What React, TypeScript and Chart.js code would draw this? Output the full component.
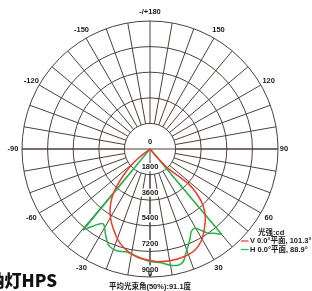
import React, { useEffect, useRef } from "react";
import { Chart, registerables } from "chart.js";
Chart.register(...registerables);

// Ring (intensity) tick values and labels, cd
const ringValues = [0, 1800, 3600, 5400, 7200, 9000];
const ringLabels = ["0", "1800", "3600", "5400", "7200", "9000"];
// Angular grid
const spokeAngles = [0, 10, 20, 30, 40, 50, 60, 70, 80, 90, 100, 110, 120, 130, 140, 150, 160, 170, 180,
  -170, -160, -150, -140, -130, -120, -110, -100, -90, -80, -70, -60, -50, -40, -30, -20, -10];
const angleTickDeg = [0, 30, 60, 90, 120, 150, 180, -150, -120, -90, -60, -30];
const angleTickLabels = ["0", "30", "60", "90", "120", "150", "-/+180", "-150", "-120", "-90", "-60", "-30"];

// V 0.0° plane (red) — path: angle (deg), intensity (cd)
const redAngles = [-55, -52, -49, -46, -42.7, -39.6, -35.9, -31.9, -27.3, -22.5, -18, -12, -6.5, 0, 4, 10.8, 17.8, 23.5, 29, 34, 39.2, 43.4, 46.2, 47.8, 46.9, 43, 41.7, 40];
const redValues = [0, 1050, 1700, 2450, 3280, 4040, 4710, 5320, 5880, 6420, 6920, 7380, 7660, 7840, 7940, 7980, 7940, 7800, 7420, 6820, 6150, 5410, 4570, 3730, 3020, 1860, 1200, 0];

// H 0.0° plane (green)
const greenAngles = [-39.5, -36.4, -32, -27.2, -23, -18, -13, -9, -4.3, 0, 5.7, 10, 14, 16.5, 19, 23.6, 26.5, 29.4, 31.7, 34.5, 37, 40];
const greenValues = [7380, 6720, 6210, 6820, 7380, 7520, 7420, 7520, 7730, 7910, 8040, 8300, 8400, 8250, 7750, 6980, 6500, 6400, 6680, 7190, 7410, 7830];

const legendTitle = "光强:cd";
const seriesNames = ["V 0.0°平面, 101.3°", "H 0.0°平面, 88.9°"];
const beamText = "平均光束角(50%):91.1度";
const titleText = "高压钠灯HPS";

const RED = "#ef3b2c";
const GREEN = "#26b44a";
const GRID = "#4d3f3a";

const W = 312;
const H = 291;
const CX = 150;
const CY = 149;
const RPX = 128;
const K = 9000 / RPX; // cd per pixel

function toXY(deg: number, cd: number) {
  const a = (deg * Math.PI) / 180;
  return { x: cd * Math.sin(a), y: -cd * Math.cos(a) };
}

const SMALL = 'bold 7.5px "Liberation Sans", "Noto Sans CJK SC"';

const polarPlugin = {
  id: "polarGrid",
  beforeDatasetsDraw(chart: any) {
    const ctx = chart.ctx;
    const xs = chart.scales.x;
    const ys = chart.scales.y;
    const px = (deg: number, cd: number) => {
      const p = toXY(deg, cd);
      return [xs.getPixelForValue(p.x), ys.getPixelForValue(p.y)];
    };
    const cx = xs.getPixelForValue(0);
    const cy = ys.getPixelForValue(0);
    const rp = (cd: number) => Math.abs(xs.getPixelForValue(cd) - cx);
    ctx.save();
    ctx.strokeStyle = GRID;
    ctx.lineWidth = 1;
    ringValues.forEach((v) => {
      if (v === 0) return;
      ctx.beginPath();
      ctx.arc(cx, cy, rp(v), 0, Math.PI * 2);
      ctx.stroke();
    });
    const r1 = ringValues[1];
    const rMax = ringValues[ringValues.length - 1];
    spokeAngles.forEach((a) => {
      const [x1, y1] = px(a, r1);
      const [x2, y2] = px(a, rMax);
      ctx.beginPath();
      ctx.moveTo(x1, y1);
      ctx.lineTo(x2, y2);
      ctx.stroke();
    });
    {
      const [xa, ya] = px(-90, rMax);
      const [xb, yb] = px(90, rMax);
      ctx.beginPath();
      ctx.moveTo(xa, ya);
      ctx.lineTo(xb, yb);
      ctx.stroke();
      const [xc, yc] = px(0, rMax);
      ctx.beginPath();
      ctx.moveTo(cx, cy);
      ctx.lineTo(xc, yc);
      ctx.stroke();
    }
    ctx.font = SMALL;
    ctx.textAlign = "center";
    ctx.textBaseline = "middle";
    ringValues.forEach((v, i) => {
      const y = cy + rp(v) - 7.5;
      const w = ctx.measureText(ringLabels[i]).width;
      ctx.fillStyle = "#ffffff";
      ctx.fillRect(cx - w / 2 - 1, y - 4, w + 2, 8);
      ctx.fillStyle = "#1a1a1a";
      ctx.fillText(ringLabels[i], cx, y);
    });
    angleTickDeg.forEach((a, i) => {
      const rr = a === 0 ? 125 * K : a === 90 ? 134 * K : 137 * K;
      const [x, y] = px(a, rr);
      ctx.fillStyle = "#1a1a1a";
      ctx.fillText(angleTickLabels[i], x, y);
    });
    ctx.restore();
  },
  afterDraw(chart: any) {
    const ctx = chart.ctx;
    ctx.save();
    ctx.font = SMALL;
    ctx.textBaseline = "middle";
    ctx.fillStyle = "#1a1a1a";
    ctx.textAlign = "left";
    ctx.fillText(legendTitle, 258, 233);
    const colors = [RED, GREEN];
    seriesNames.forEach((n, i) => {
      const y = 241 + i * 8.5;
      ctx.strokeStyle = colors[i];
      ctx.lineWidth = 1.2;
      ctx.beginPath();
      ctx.moveTo(241, y);
      ctx.lineTo(248.5, y);
      ctx.stroke();
      ctx.fillStyle = "#1a1a1a";
      ctx.fillText(n, 250, y);
    });
    ctx.textAlign = "center";
    ctx.fillText(beamText, 150, 287);
    ctx.font = '900 17px "Noto Sans CJK SC", "Liberation Sans"';
    ctx.textAlign = "right";
    ctx.fillStyle = "#111111";
    ctx.fillText(titleText, 57, 281);
    ctx.restore();
  },
};

export default function App() {
  const ref = useRef<HTMLCanvasElement | null>(null);
  useEffect(() => {
    if (!ref.current) return;
    const redPts = redAngles.map((a, i) => toXY(a, redValues[i]));
    const greenPts = greenAngles.map((a, i) => toXY(a, greenValues[i]));
    const gl = greenAngles.length - 1;
    const greenStraight = [
      toXY(greenAngles[0], greenValues[0]),
      toXY(0, 0),
      toXY(greenAngles[gl], greenValues[gl]),
    ];
    const chart = new Chart(ref.current, {
      type: "scatter",
      data: {
        datasets: [
          { label: "V", data: redPts, showLine: true, borderColor: RED, borderWidth: 1.5, pointRadius: 0, tension: 0.35, fill: false },
          { label: "H", data: greenPts, showLine: true, borderColor: GREEN, borderWidth: 1.5, pointRadius: 0, tension: 0.3, fill: false },
          { label: "H2", data: greenStraight, showLine: true, borderColor: GREEN, borderWidth: 1.5, pointRadius: 0, tension: 0, fill: false },
        ],
      },
      options: {
        animation: false,
        responsive: false,
        maintainAspectRatio: false,
        layout: { padding: 0 },
        plugins: { legend: { display: false }, tooltip: { enabled: false }, title: { display: false } },
        scales: {
          x: { type: "linear", min: -CX * K, max: (W - CX) * K, display: false },
          y: { type: "linear", min: -(H - CY) * K, max: CY * K, display: false },
        },
      },
      plugins: [polarPlugin],
    } as any);
    return () => chart.destroy();
  }, []);
  return (
    <div style={{ position: "absolute", left: 0, top: 0, width: W, height: H, background: "#fff" }}>
      <canvas ref={ref} width={W} height={H} style={{ display: "block", width: W, height: H }} />
    </div>
  );
}
